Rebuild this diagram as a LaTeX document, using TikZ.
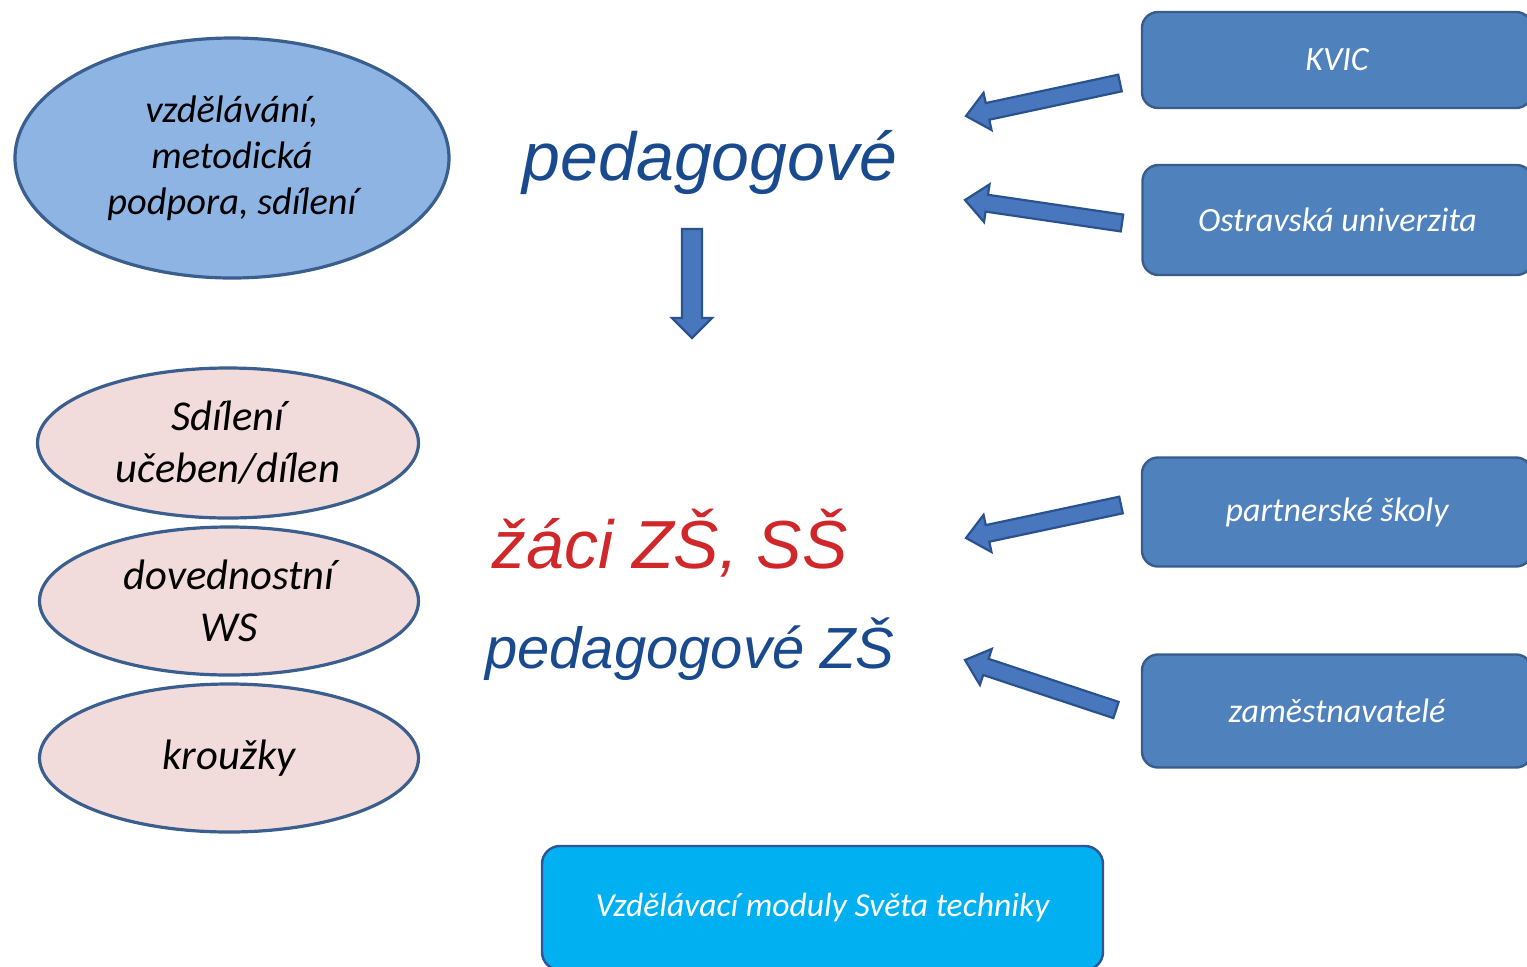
\documentclass[tikz,border=0pt]{standalone}
\usepackage{fontspec}
\setmainfont{Carlito}
\newfontfamily\arialf{Liberation Sans}
\usetikzlibrary{shapes.geometric,calc}
\definecolor{boxblue}{RGB}{79,129,189}
\definecolor{boxedge}{RGB}{56,93,138}
\definecolor{ellblue}{RGB}{142,180,227}
\definecolor{ellpink}{RGB}{242,220,219}
\definecolor{elledge}{RGB}{58,94,142}
\definecolor{cyanbox}{RGB}{0,176,240}
\definecolor{cyanedge}{RGB}{47,85,151}
\definecolor{txtblue}{RGB}{26,74,142}
\definecolor{txtred}{RGB}{208,40,42}
\definecolor{arrfill}{RGB}{72,119,190}
\definecolor{arredge}{RGB}{42,82,143}
\newcommand\myblockarrow[5]{%
  \coordinate (ba-b) at ($(#2)!#5!(#1)$);
  \draw[blockarrow] ($(#1)!#3!90:(#2)$) -- ($(ba-b)!#3!90:(#2)$) -- ($(ba-b)!#4!90:(#2)$) -- (#2)
    -- ($(ba-b)!#4!-90:(#2)$) -- ($(ba-b)!#3!-90:(#2)$) -- ($(#1)!#3!-90:(#2)$) -- cycle;
}
\begin{document}
\begin{tikzpicture}[x=0.5pt,y=-0.5pt,
  srcbox/.style={draw=boxedge, fill=boxblue, line width=1.2pt, rounded corners=8pt,
    minimum width=195pt, text=white, font=\fontsize{17}{20}\selectfont\itshape, inner sep=0pt},
  ell/.style={ellipse, draw=elledge, line width=1.6pt, inner sep=0pt, align=center, text=black},
  topell/.style={ell, fill=ellblue, font=\fontsize{19.2}{23}\selectfont\itshape},
  pinkell/.style={ell, fill=ellpink, font=\fontsize{21.3}{26}\selectfont\itshape},
  bigtxt/.style={anchor=base, inner sep=0pt, font=\arialf\itshape\fontsize{34}{40}\selectfont},
  blockarrow/.style={fill=arrfill, draw=arredge, line width=1.1pt, line join=miter}]
\useasboundingbox (0,0) rectangle (1527,966);

% left ellipses
\node[topell, minimum width=217pt, minimum height=120pt] (e1) at (232,158) {vzdělávání,\\metodická\\podpora, sdílení};
\node[pinkell, minimum width=190.5pt, minimum height=75pt] (e2) at (228,443) {Sdílení\\učeben/dílen};
\node[pinkell, minimum width=189.5pt, minimum height=74pt] (e3) at (229,601) {dovednostní\\WS};
\node[pinkell, minimum width=189.5pt, minimum height=74pt] (e4) at (229,758) {kroužky};

% right boxes
\node[srcbox, minimum height=48pt] (b1) at (1337,60) {KVIC};
\node[srcbox, minimum height=55pt] (b2) at (1337.5,220) {Ostravská univerzita};
\node[srcbox, minimum height=54.5pt] (b3) at (1337,512) {partnerské školy};
\node[srcbox, minimum height=56.5pt] (b4) at (1337,711) {zaměstnavatelé};

% bottom box
\node[draw=cyanedge, fill=cyanbox, line width=1.2pt, rounded corners=9pt, minimum width=280.5pt,
  minimum height=62pt, inner sep=0pt, text=white, font=\fontsize{16.8}{20}\selectfont\itshape]
  (vm) at (822.5,908) {Vzdělávací moduly Světa techniky};

% central texts
\node[bigtxt, text=txtblue] (t1) at (710,180) {pedagogové};
\node[bigtxt, text=txtred] (t2) at (670,568) {žáci ZŠ, SŠ};
\node[bigtxt, text=txtblue, font=\arialf\itshape\fontsize{29}{34}\selectfont] (t3) at (690,668) {pedagogové ZŠ};

% arrows
\coordinate (a1s) at (1120,83);  \coordinate (a1e) at (966,116);
\coordinate (a2s) at (1122,223); \coordinate (a2e) at (965,200);
\coordinate (a3s) at (1121,505); \coordinate (a3e) at (966,538);
\coordinate (a4s) at (1116,710); \coordinate (a4e) at (965,660);
\coordinate (dns) at (692,229);  \coordinate (dne) at (692,338);
\myblockarrow{a1s}{a1e}{4.25pt}{9.5pt}{11pt}
\myblockarrow{a2s}{a2e}{4.25pt}{9.5pt}{11pt}
\myblockarrow{a3s}{a3e}{4.25pt}{9.5pt}{11pt}
\myblockarrow{a4s}{a4e}{4.25pt}{9.5pt}{11pt}
\myblockarrow{dns}{dne}{5pt}{10pt}{10pt}
\end{tikzpicture}
\end{document}
